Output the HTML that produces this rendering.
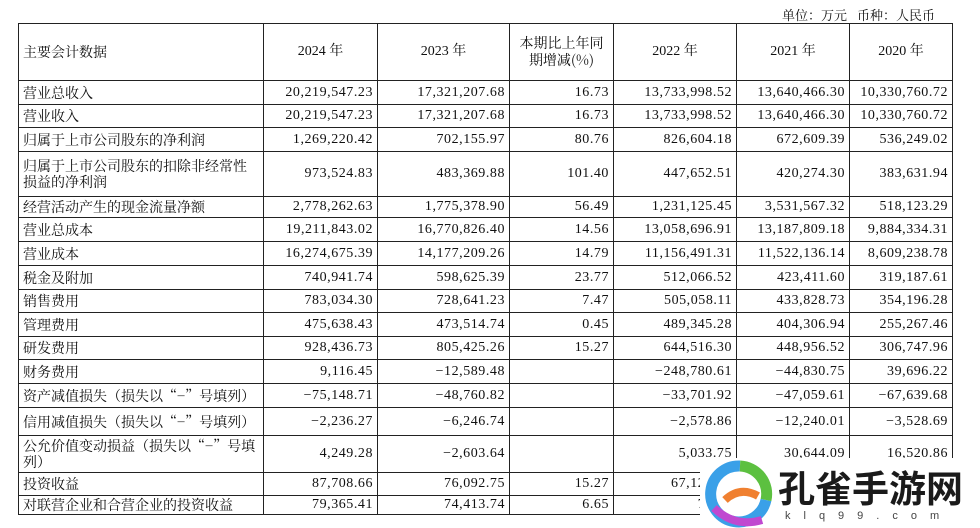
<!DOCTYPE html>
<html><head><meta charset="utf-8">
<style>
html,body{margin:0;padding:0;background:#fff;}
body{width:980px;height:528px;position:relative;overflow:hidden;font-family:"Liberation Serif","Noto Serif CJK SC",serif;color:#111;}
#unit{position:absolute;left:740px;top:5px;width:195px;text-align:right;font-size:13px;font-family:"Noto Serif CJK SC",serif;}
table{position:absolute;left:18px;top:23px;border-collapse:collapse;table-layout:fixed;font-size:14px;}
td{border:1px solid #222;padding:0 4px;line-height:16px;overflow:hidden;white-space:nowrap;}
td.l{text-align:left;font-family:"Noto Serif CJK SC",serif;padding-left:4px;font-size:14px;}
td.n{text-align:right;letter-spacing:0.55px;}
td.h{text-align:center;font-family:"Liberation Serif","Noto Serif CJK SC",serif;}
#wm{position:absolute;left:700px;top:458px;width:280px;height:70px;background:#fff;}
#wmtext{position:absolute;left:78px;top:8px;font-size:37px;font-weight:bold;font-family:"Noto Sans CJK SC",sans-serif;color:#1a1a1a;line-height:40px;}
#wmurl{position:absolute;left:85px;top:52px;font-size:11px;letter-spacing:13px;color:#444;font-family:"Liberation Sans",sans-serif;}
</style></head><body>
<div id="unit">单位：万元&nbsp;&nbsp;&nbsp;币种：人民币</div>
<table>
<colgroup><col style="width:245px"><col style="width:114px"><col style="width:132px"><col style="width:104px"><col style="width:123px"><col style="width:113px"><col style="width:103px"></colgroup>
<tr style="height:57px"><td class="l">主要会计数据</td><td class="h">2024 年</td><td class="h">2023 年</td><td class="h" style="font-family:'Noto Serif CJK SC',serif;line-height:17px">本期比上年同<br>期增减(%)</td><td class="h">2022 年</td><td class="h">2021 年</td><td class="h">2020 年</td></tr>
<tr style="height:24px"><td class="l">营业总收入</td><td class="n">20,219,547.23</td><td class="n">17,321,207.68</td><td class="n">16.73</td><td class="n">13,733,998.52</td><td class="n">13,640,466.30</td><td class="n">10,330,760.72</td></tr>
<tr style="height:23px"><td class="l">营业收入</td><td class="n">20,219,547.23</td><td class="n">17,321,207.68</td><td class="n">16.73</td><td class="n">13,733,998.52</td><td class="n">13,640,466.30</td><td class="n">10,330,760.72</td></tr>
<tr style="height:24px"><td class="l">归属于上市公司股东的净利润</td><td class="n">1,269,220.42</td><td class="n">702,155.97</td><td class="n">80.76</td><td class="n">826,604.18</td><td class="n">672,609.39</td><td class="n">536,249.02</td></tr>
<tr style="height:45px"><td class="l">归属于上市公司股东的扣除非经常性<br>损益的净利润</td><td class="n">973,524.83</td><td class="n">483,369.88</td><td class="n">101.40</td><td class="n">447,652.51</td><td class="n">420,274.30</td><td class="n">383,631.94</td></tr>
<tr style="height:21px"><td class="l">经营活动产生的现金流量净额</td><td class="n">2,778,262.63</td><td class="n">1,775,378.90</td><td class="n">56.49</td><td class="n">1,231,125.45</td><td class="n">3,531,567.32</td><td class="n">518,123.29</td></tr>
<tr style="height:24px"><td class="l">营业总成本</td><td class="n">19,211,843.02</td><td class="n">16,770,826.40</td><td class="n">14.56</td><td class="n">13,058,696.91</td><td class="n">13,187,809.18</td><td class="n">9,884,334.31</td></tr>
<tr style="height:24px"><td class="l">营业成本</td><td class="n">16,274,675.39</td><td class="n">14,177,209.26</td><td class="n">14.79</td><td class="n">11,156,491.31</td><td class="n">11,522,136.14</td><td class="n">8,609,238.78</td></tr>
<tr style="height:24px"><td class="l">税金及附加</td><td class="n">740,941.74</td><td class="n">598,625.39</td><td class="n">23.77</td><td class="n">512,066.52</td><td class="n">423,411.60</td><td class="n">319,187.61</td></tr>
<tr style="height:23px"><td class="l">销售费用</td><td class="n">783,034.30</td><td class="n">728,641.23</td><td class="n">7.47</td><td class="n">505,058.11</td><td class="n">433,828.73</td><td class="n">354,196.28</td></tr>
<tr style="height:24px"><td class="l">管理费用</td><td class="n">475,638.43</td><td class="n">473,514.74</td><td class="n">0.45</td><td class="n">489,345.28</td><td class="n">404,306.94</td><td class="n">255,267.46</td></tr>
<tr style="height:23px"><td class="l">研发费用</td><td class="n">928,436.73</td><td class="n">805,425.26</td><td class="n">15.27</td><td class="n">644,516.30</td><td class="n">448,956.52</td><td class="n">306,747.96</td></tr>
<tr style="height:24px"><td class="l">财务费用</td><td class="n">9,116.45</td><td class="n">−12,589.48</td><td class="n"></td><td class="n">−248,780.61</td><td class="n">−44,830.75</td><td class="n">39,696.22</td></tr>
<tr style="height:24px"><td class="l">资产减值损失（损失以“−”号填列）</td><td class="n">−75,148.71</td><td class="n">−48,760.82</td><td class="n"></td><td class="n">−33,701.92</td><td class="n">−47,059.61</td><td class="n">−67,639.68</td></tr>
<tr style="height:28px"><td class="l">信用减值损失（损失以“−”号填列）</td><td class="n">−2,236.27</td><td class="n">−6,246.74</td><td class="n"></td><td class="n">−2,578.86</td><td class="n">−12,240.01</td><td class="n">−3,528.69</td></tr>
<tr style="height:37px"><td class="l">公允价值变动损益（损失以“−”号填<br>列）</td><td class="n">4,249.28</td><td class="n">−2,603.64</td><td class="n"></td><td class="n">5,033.75</td><td class="n">30,644.09</td><td class="n">16,520.86</td></tr>
<tr style="height:23px"><td class="l">投资收益</td><td class="n">87,708.66</td><td class="n">76,092.75</td><td class="n">15.27</td><td class="n">67,127.27</td><td class="n"></td><td class="n"></td></tr>
<tr style="height:19px"><td class="l">对联营企业和合营企业的投资收益</td><td class="n">79,365.41</td><td class="n">74,413.74</td><td class="n">6.65</td><td class="n">72,09</td><td class="n"></td><td class="n"></td></tr>
</table>
<div id="wm">
<svg width="80" height="70" style="position:absolute;left:0;top:0">
<path d="M40 8 A28 28 0 1 0 66 42" stroke="#3aa0e8" stroke-width="11" fill="none"/>
<path d="M40 8 A28 28 0 0 1 66 42" stroke="#5cc040" stroke-width="11" fill="none"/>
<path d="M14 50 Q35 70 62 62" stroke="#c048d0" stroke-width="8" fill="none"/>
<path d="M25 42 Q40 28 58 38" stroke="#f08030" stroke-width="8" fill="none"/>
</svg>
<div id="wmtext">孔雀手游网</div>
<div id="wmurl">klq99.com</div>
</div>
</body></html>
